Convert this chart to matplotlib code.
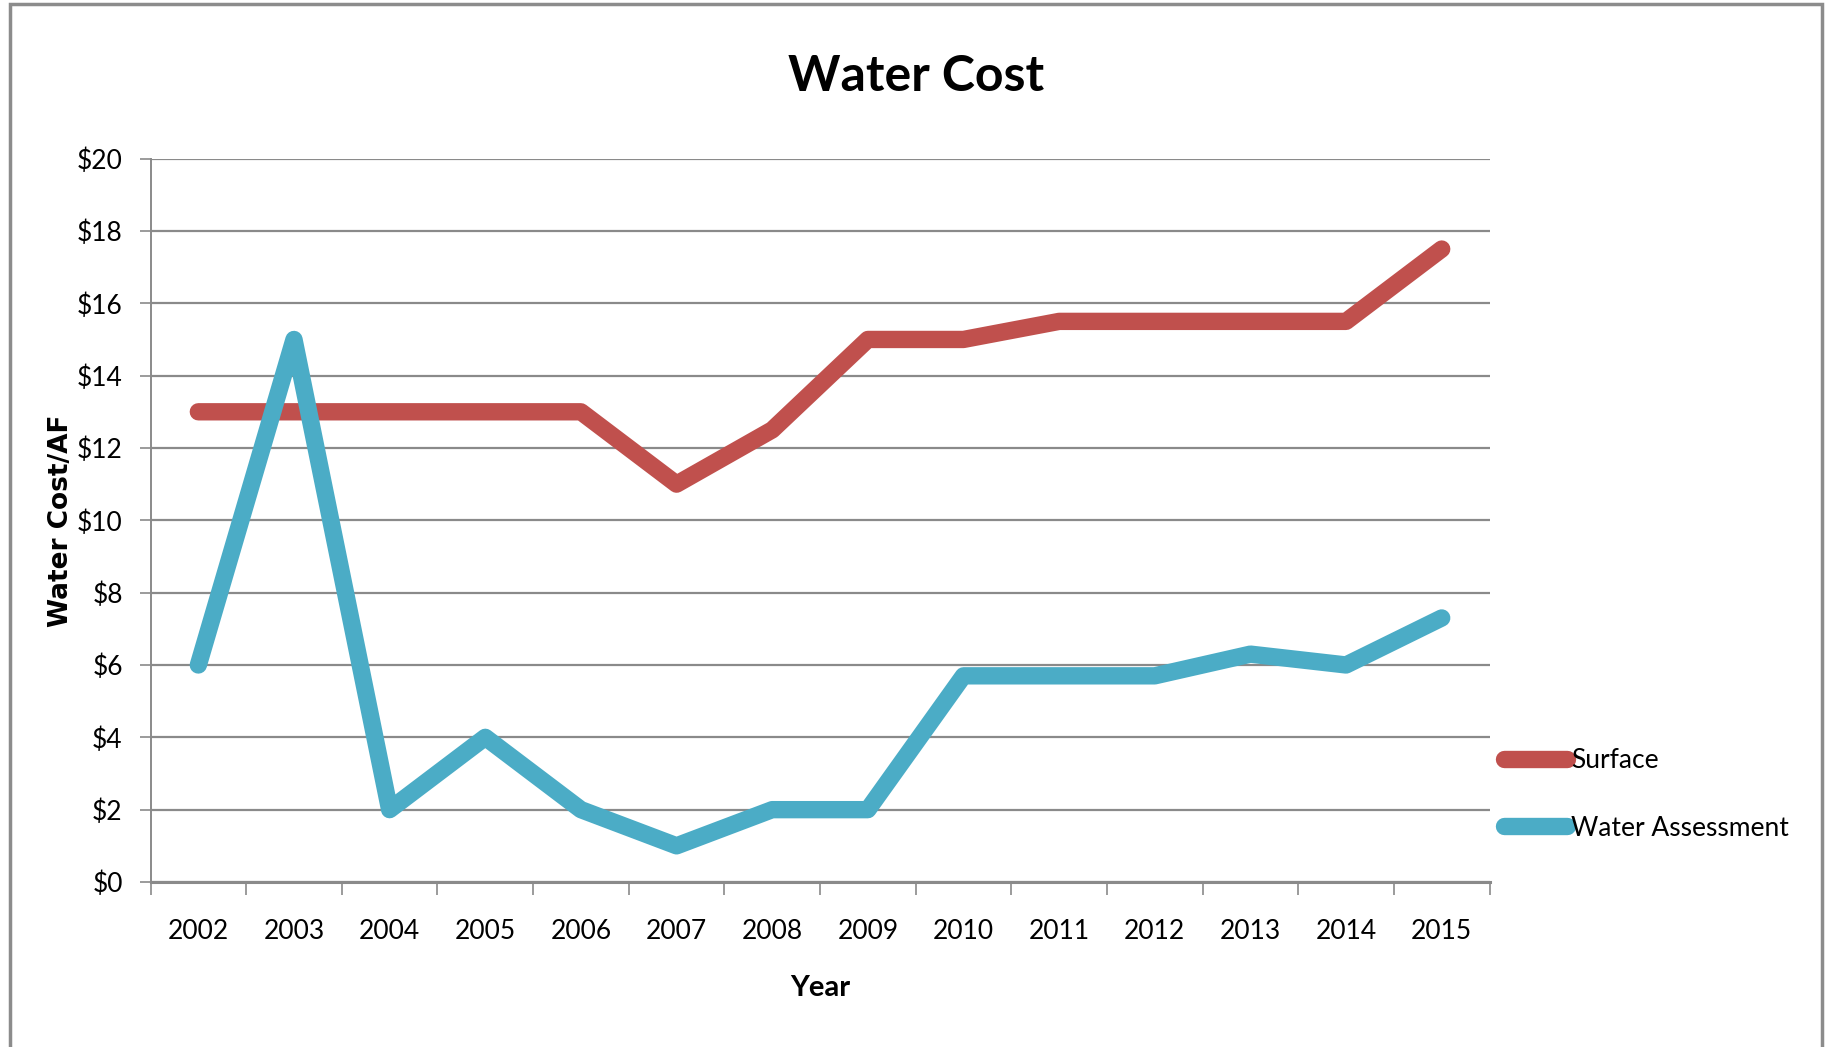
import matplotlib
matplotlib.use("Agg")
import matplotlib.pyplot as plt
from matplotlib import font_manager as fm
from matplotlib.patches import Rectangle

years = ["2002", "2003", "2004", "2005", "2006", "2007", "2008",
         "2009", "2010", "2011", "2012", "2013", "2014", "2015"]
surface = [13, 13, 13, 13, 13, 11, 12.5, 15, 15, 15.5, 15.5, 15.5, 15.5, 17.5]
water_assessment = [6, 15, 2, 4, 2, 1, 2, 2, 5.7, 5.7, 5.7, 6.3, 6, 7.3]
y_ticks = [0, 2, 4, 6, 8, 10, 12, 14, 16, 18, 20]

names = {f.name for f in fm.fontManager.ttflist}
narrow = next((n for n in ["Liberation Sans Narrow", "Lato", "Liberation Sans"] if n in names),
              "DejaVu Sans")

RED = "#C0504D"
BLUE = "#4BACC6"
GRID = "#8a8a8a"

fig = plt.figure(figsize=(18.29, 10.47), dpi=100)
ax = fig.add_axes([0.0823, 0.1576, 0.7321, 0.6909])

x = [i + 0.5 for i in range(len(years))]
ax.plot(x, surface, color=RED, lw=12.5, solid_capstyle="round",
        solid_joinstyle="round", label="Surface", zorder=3)
ax.plot(x, water_assessment, color=BLUE, lw=12.5, solid_capstyle="round",
        solid_joinstyle="round", label="Water Assessment", zorder=4)

ax.set_xlim(0, len(years))
ax.set_ylim(0, 20)
ax.set_yticks(y_ticks)
ax.set_yticklabels([f"${v}" for v in y_ticks], fontfamily=narrow, fontsize=19)
ax.grid(axis="y", color=GRID, lw=1.6, zorder=0)
ax.set_axisbelow(True)

ax.set_xticks(range(len(years) + 1))
ax.set_xticklabels([])
ax.set_xticks(x, minor=True)
ax.set_xticklabels(years, minor=True, fontfamily=narrow, fontsize=19)
ax.tick_params(axis="x", which="major", length=9, color=GRID, width=1.2, direction="out")
ax.tick_params(axis="x", which="minor", length=0, pad=27)
ax.tick_params(axis="y", length=8, color=GRID, width=1.2, pad=12)

for s in ["top", "right"]:
    ax.spines[s].set_visible(False)
ax.spines["left"].set_color(GRID)
ax.spines["left"].set_linewidth(1.4)
ax.spines["bottom"].set_color(GRID)
ax.spines["bottom"].set_linewidth(2.2)

ax.set_ylabel("Water Cost/AF", fontfamily="DejaVu Sans", fontweight="bold",
              fontsize=19, va="center")
ax.yaxis.set_label_coords(-0.0665, 0.5)
ax.set_xlabel("Year", fontfamily=narrow, fontweight="bold", fontsize=21, labelpad=22)

fig.text(0.501, 0.927, "Water Cost", ha="center", va="center",
         fontfamily=narrow, fontweight="bold", fontsize=36)

leg = ax.legend(loc="center left", bbox_to_anchor=(1.0, 0.121), frameon=False,
                prop={"family": narrow, "size": 19}, handlelength=2.4,
                handletextpad=0.15, labelspacing=1.6, borderaxespad=0.55,
                borderpad=0)

fig.add_artist(Rectangle((0.0055, -0.02), 0.9905, 1.016, transform=fig.transFigure,
                         fill=False, edgecolor="#8c8c8c", lw=2.5))

fig.savefig("out.png", dpi=100)
